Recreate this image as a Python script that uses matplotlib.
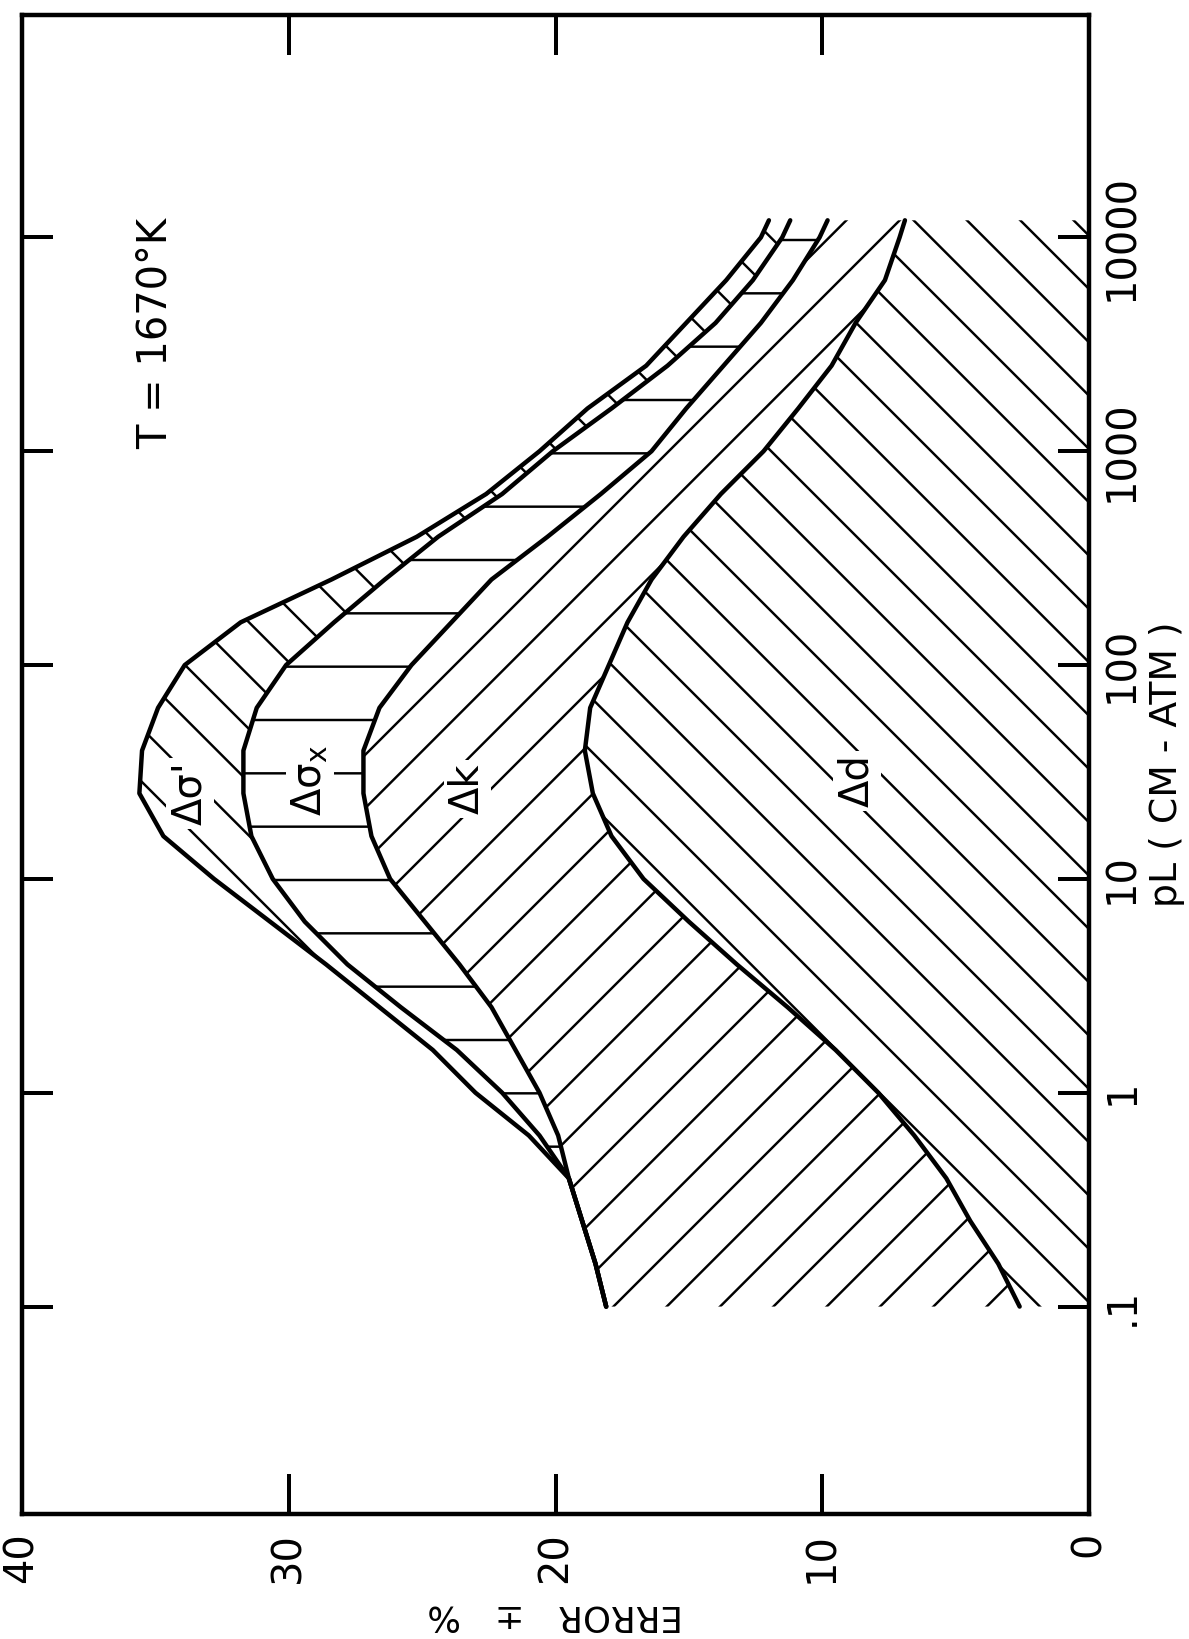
import numpy as np
import matplotlib
matplotlib.use('Agg')
import matplotlib.pyplot as plt
from matplotlib.ticker import NullLocator

DPI = 320

# log10 of pL (cm-atm) at which the error curves were read
log_pl = [-1.0, -0.8, -0.6, -0.4, -0.2, 0.0, 0.2, 0.4, 0.6, 0.8, 1.0, 1.2, 1.4,
          1.6, 1.8, 2.0, 2.2, 2.4, 2.6, 2.8, 3.0, 3.2, 3.4, 3.6, 3.8, 4.0, 4.08]

# cumulative error (+/- %) at the upper edge of each band
err_sigma_prime = [18.1, 18.5, 19.0, 19.5, 21.0, 23.0, 24.6, 26.6, 28.6, 30.7, 32.8, 34.7, 35.6,
                   35.5, 34.9, 33.9, 31.8, 28.4, 25.2, 22.6, 20.6, 18.8, 16.6, 15.1, 13.6, 12.3, 12.0]
err_sigma_x = [18.1, 18.5, 19.0, 19.5, 20.6, 22.0, 23.7, 25.8, 27.8, 29.4, 30.6, 31.4, 31.7,
               31.7, 31.2, 30.1, 28.3, 26.4, 24.4, 22.0, 20.1, 17.9, 15.8, 14.0, 12.6, 11.5, 11.2]
err_k = [18.1, 18.5, 19.0, 19.5, 19.9, 20.6, 21.5, 22.4, 23.6, 24.9, 26.2, 26.9, 27.2,
         27.2, 26.6, 25.4, 23.9, 22.4, 20.3, 18.3, 16.4, 15.1, 13.7, 12.3, 11.1, 10.1, 9.8]
err_d = [2.6, 3.4, 4.45, 5.35, 6.55, 7.9, 9.5, 11.3, 13.2, 15.0, 16.7, 17.9, 18.6,
         18.9, 18.7, 18.0, 17.3, 16.4, 15.2, 13.8, 12.2, 10.9, 9.65, 8.75, 7.65, 7.1, 6.9]

band_names = ["Δσ'", r'$\mathregular{\Delta\sigma_x}$', 'Δk', 'Δd']
band_label_err = [33.7, 29.2, 23.3, 8.7]
band_label_logpl = [1.40, 1.46, 1.42, 1.46]

err_ticks = [0, 10, 20, 30, 40]
pl_ticks = [0.1, 1, 10, 100, 1000, 10000]
pl_tick_labels = ['.1', '1', '10', '100', '1000', '10000']

plt.rcParams['font.family'] = ['DejaVu Sans']
plt.rcParams['hatch.linewidth'] = 0.55

fig = plt.figure(figsize=(1189 / DPI, 1639 / DPI), dpi=DPI)
# the page is turned: error runs right-to-left along the bottom, pL runs upward
ax = fig.add_axes([22 / 1189, 1 - 1514 / 1639, 1067 / 1189, 1499 / 1639])
ax.set_yscale('log')
ax.set_xlim(40, 0)
ax.set_ylim(10 ** -1.97, 10 ** 5.04)

pl = 10 ** np.array(log_pl)
curves = [np.array(err_sigma_prime), np.array(err_sigma_x), np.array(err_k), np.array(err_d)]
lowers = curves[1:] + [np.zeros(len(pl))]
hatches = ['\\\\', '-', '//', '\\\\']

for upper, lower, h in zip(curves, lowers, hatches):
    ax.fill(np.r_[upper, lower[::-1]], np.r_[pl, pl[::-1]],
            facecolor='none', edgecolor='black', linewidth=0, hatch=h)

for c in curves:
    ax.plot(c, pl, color='black', lw=1.0, solid_capstyle='round')

for name, e, lp in zip(band_names, band_label_err, band_label_logpl):
    ax.text(e, 10 ** lp, name, rotation=90, ha='center', va='center', fontsize=9,
            bbox=dict(fc='white', ec='none', pad=0.8))

ax.text(35.0, 10 ** 3.55, 'T = 1670°K', rotation=90, ha='center', va='center', fontsize=9)

ax.set_xticks(err_ticks)
ax.set_xticklabels([str(t) for t in err_ticks])
ax.tick_params(axis='x', direction='in', length=9, width=0.9, top=True, bottom=True,
               labelsize=9, labelrotation=90, pad=4)

ax.set_yticks(pl_ticks)
ax.set_yticklabels(pl_tick_labels)
ax.yaxis.set_minor_locator(NullLocator())
ax.tick_params(axis='y', direction='in', length=7, width=0.9, left=True, right=True,
               labelleft=False, labelright=True, labelsize=9, labelrotation=90, pad=3)
for lab in ax.get_yticklabels():
    lab.set_va('center')

ax.set_xlabel('ERROR   ±   %', rotation=180, fontsize=8)
ax.xaxis.set_label_coords(0.5, -0.0674)
ax.xaxis.label.set_va('center')

ax.yaxis.set_label_position('right')
ax.set_ylabel('pL ( CM - ATM )', rotation=90, fontsize=8.5)
ax.yaxis.set_label_coords(1.073, 0.5)
ax.yaxis.label.set_va('center')
ax.yaxis.label.set_ha('center')

for s in ax.spines.values():
    s.set_linewidth(1.0)

fig.savefig('out.png', dpi=DPI)
